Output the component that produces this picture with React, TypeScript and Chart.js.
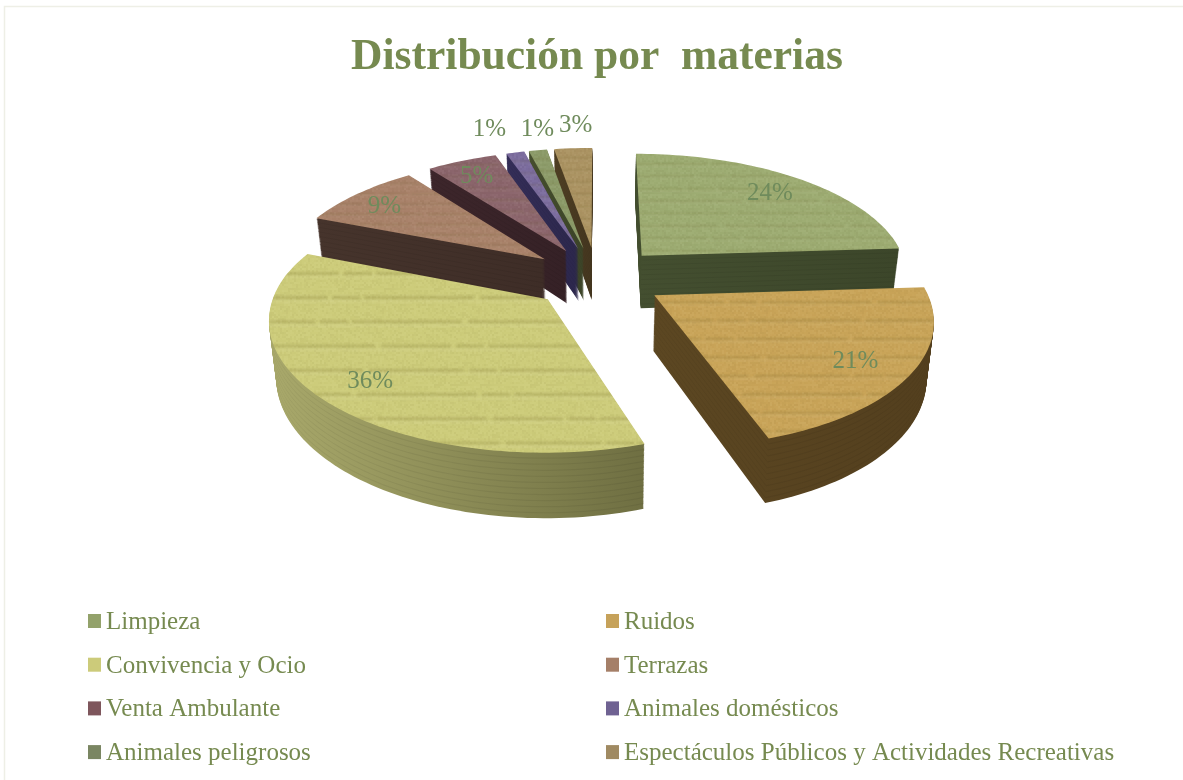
import React, { useEffect, useRef } from "react";
import { Chart, registerables } from "chart.js";

Chart.register(...registerables);

const categories = [
  "Limpieza",
  "Ruidos",
  "Convivencia y Ocio",
  "Terrazas",
  "Venta Ambulante",
  "Animales domésticos",
  "Animales peligrosos",
  "Espectáculos Públicos y Actividades Recreativas",
];
const shares = [24, 21, 36, 8.7, 5, 1.3, 1.3, 2.7];
const topColors = ["#9dac72", "#c9a458", "#cdcc7a", "#a9826a", "#8b656c", "#7b6c9e", "#8c9b69", "#ab9362"];
const swatchColors = ["#93a26b", "#c6a25a", "#cccb7a", "#a57f68", "#7e565c", "#6f6292", "#7a8662", "#a08a62"];
const wallLight = ["#444f30", "#5c4722", "#a9a96b", "#46342c", "#3d262b", "#342e58", "#464f2e", "#4f3f24"];
const wallDark = ["#3c462a", "#533f1e", "#6f6f42", "#3e2d27", "#352126", "#2c274c", "#3c4428", "#44361f"];
const drawOrder = [7, 6, 5, 4, 3, 0, 2, 1];

const TEXT = "#768a50";
const LABEL = "#6f8b5c";
const SERIF = "'Liberation Serif', serif";
const EXPLODE = 0.25;
const PERSP = 0.15;
const SCALE_X = 1.509;
const SCALE_Y = 0.694;
const DEPTH = 54;

let grain: HTMLCanvasElement | null = null;
function grainCanvas() {
  if (grain) return grain;
  const c = document.createElement("canvas");
  c.width = 96;
  c.height = 96;
  const g = c.getContext("2d") as CanvasRenderingContext2D;
  for (let y = 0; y < 96; y += 2) {
    for (let x = 0; x < 96; x += 2) {
      const h = ((x * 73856093) ^ (y * 19349663)) >>> 0;
      const n = (h % 97) / 97;
      g.fillStyle = n > 0.5 ? `rgba(255,255,235,${(n - 0.5) * 0.09})` : `rgba(50,40,10,${(0.5 - n) * 0.08})`;
      g.fillRect(x, y, 2, 2);
    }
  }
  grain = c;
  return c;
}

function project(arc: any, mid: number, rho: number, theta: number, z: number) {
  const r = arc.outerRadius;
  const u = EXPLODE * Math.sin(mid) + rho * Math.sin(theta);
  const v = -EXPLODE * Math.cos(mid) - rho * Math.cos(theta);
  const w = 1 - PERSP * v;
  const shrink = 1 - 0.022 * z;
  const yy = (r * SCALE_Y * v) / w;
  return {
    x: arc.x + (r * SCALE_X * u * shrink) / w + 0.04 * Math.max(yy, 0),
    y: arc.y + yy + (DEPTH * z) / w,
  };
}

function outline(ctx: CanvasRenderingContext2D, arc: any, z: number) {
  const a0 = arc.startAngle + Math.PI / 2;
  const a1 = arc.endAngle + Math.PI / 2;
  const mid = (a0 + a1) / 2;
  const n = Math.max(6, Math.ceil((a1 - a0) * 40));
  ctx.beginPath();
  const c = project(arc, mid, 0, 0, z);
  ctx.moveTo(c.x, c.y);
  for (let i = 0; i <= n; i++) {
    const p = project(arc, mid, 1, a0 + ((a1 - a0) * i) / n, z);
    ctx.lineTo(p.x, p.y);
  }
  ctx.closePath();
}

function bounds(arc: any) {
  const a0 = arc.startAngle + Math.PI / 2;
  const a1 = arc.endAngle + Math.PI / 2;
  const mid = (a0 + a1) / 2;
  const pts = [project(arc, mid, 0, 0, 0)];
  for (let i = 0; i <= 30; i++) pts.push(project(arc, mid, 1, a0 + ((a1 - a0) * i) / 30, 0));
  const xs = pts.map((p) => p.x);
  const ys = pts.map((p) => p.y);
  return { x0: Math.min(...xs), x1: Math.max(...xs), y0: Math.min(...ys), y1: Math.max(...ys) };
}

function drawSlice(ctx: CanvasRenderingContext2D, arc: any, i: number) {
  const b = bounds(arc);
  const grad = ctx.createLinearGradient(b.x0, 0, b.x1, 0);
  grad.addColorStop(0, wallLight[i]);
  grad.addColorStop(1, wallDark[i]);
  for (let s = DEPTH; s >= 1; s--) {
    outline(ctx, arc, s / DEPTH);
    ctx.fillStyle = grad;
    ctx.fill();
    if (s % 5 === 0) {
      ctx.fillStyle = "rgba(0,0,0,0.055)";
      ctx.fill();
    }
  }
  outline(ctx, arc, 0);
  ctx.fillStyle = topColors[i];
  ctx.fill();

  ctx.save();
  outline(ctx, arc, 0);
  ctx.clip();
  const pat = ctx.createPattern(grainCanvas(), "repeat");
  if (pat) {
    ctx.fillStyle = pat;
    ctx.fillRect(b.x0 - 2, b.y0 - 2, b.x1 - b.x0 + 4, b.y1 - b.y0 + 4);
  }
  const h = b.y1 - b.y0;
  const gap = h / 8.2;
  ctx.filter = "blur(0.8px)";
  ctx.lineWidth = Math.max(1.4, gap / 8);
  let k = 0;
  for (let y = b.y0 + gap * 0.8; y < b.y1; y += gap, k++) {
    ctx.beginPath();
    ctx.moveTo(b.x0, y);
    ctx.lineTo(b.x1, y);
    ctx.setLineDash([70 + (k % 3) * 25, 5, 28, 4, 110, 6]);
    ctx.lineDashOffset = k * 37;
    ctx.strokeStyle = "rgba(90,75,15,0.17)";
    ctx.stroke();
    ctx.beginPath();
    ctx.moveTo(b.x0, y + ctx.lineWidth + 0.5);
    ctx.lineTo(b.x1, y + ctx.lineWidth + 0.5);
    ctx.setLineDash([]);
    ctx.strokeStyle = "rgba(255,255,230,0.08)";
    ctx.stroke();
  }
  ctx.filter = "none";
  ctx.restore();
}

const labelRadius = [0.8, 0.8, 0.8, 0.8, 0.8, 1.22, 1.22, 1.22];
const labelNudgeX = [0, 0, -1, -8, -4, -14, 8, 6];
const labelNudgeY = [0, 4, 5, 0, -1, -5, -2, -4];

const pie3d = {
  id: "pie3d",
  beforeDraw(chart: any) {
    const ctx = chart.ctx;
    ctx.save();
    ctx.fillStyle = "#ffffff";
    ctx.fillRect(0, 0, chart.width, chart.height);
    ctx.strokeStyle = "#eeefe6";
    ctx.lineWidth = 1.5;
    ctx.strokeRect(4.5, 6.5, chart.width + 40, chart.height + 40);
    ctx.restore();
  },
  beforeDatasetsDraw(chart: any) {
    const ctx = chart.ctx;
    const arcs = chart.getDatasetMeta(0).data;
    ctx.save();
    drawOrder.forEach((i) => drawSlice(ctx, arcs[i], i));

    ctx.fillStyle = LABEL;
    ctx.font = `25px ${SERIF}`;
    ctx.textAlign = "center";
    ctx.textBaseline = "middle";
    shares.forEach((v, i) => {
      const a = arcs[i];
      const mid = (a.startAngle + a.endAngle) / 2 + Math.PI / 2;
      const p = project(a, mid, labelRadius[i], mid, 0);
      ctx.fillText(`${Math.round(v)}%`, p.x + labelNudgeX[i], p.y + labelNudgeY[i]);
    });

    // two-column legend
    ctx.textAlign = "left";
    ctx.textBaseline = "alphabetic";
    ctx.font = `25px ${SERIF}`;
    categories.forEach((label, i) => {
      const col = i % 2;
      const row = Math.floor(i / 2);
      const sx = col === 0 ? 88 : 606;
      const y = 621 + row * 43.7;
      ctx.fillStyle = swatchColors[i];
      ctx.fillRect(sx, y - 7, 13, 14);
      ctx.fillStyle = TEXT;
      ctx.fillText(label, sx + 18, y + 8);
    });
    ctx.restore();
    return false;
  },
};

export default function App() {
  const ref = useRef<HTMLCanvasElement>(null);
  useEffect(() => {
    const chart = new Chart(ref.current as HTMLCanvasElement, {
      type: "pie",
      data: {
        labels: categories,
        datasets: [{ data: shares, backgroundColor: topColors, borderWidth: 0 }],
      },
      options: {
        animation: false,
        responsive: false,
        devicePixelRatio: 1,
        layout: { padding: { top: 0, left: 11, right: 0, bottom: 324.8 } },
        plugins: {
          legend: { display: false },
          tooltip: { enabled: false },
          title: {
            display: true,
            text: "Distribución por  materias",
            color: TEXT,
            font: { family: SERIF, size: 43.5, weight: "bold", lineHeight: 1.2 },
            padding: { top: 32, bottom: 15.8 },
          },
        },
      } as any,
      plugins: [pie3d as any],
    });
    return () => chart.destroy();
  }, []);
  return (
    <div style={{ position: "absolute", left: 0, top: 0, width: 1183, height: 780, overflow: "hidden" }}>
      <canvas ref={ref} width={1183} height={780} style={{ display: "block" }} />
    </div>
  );
}
